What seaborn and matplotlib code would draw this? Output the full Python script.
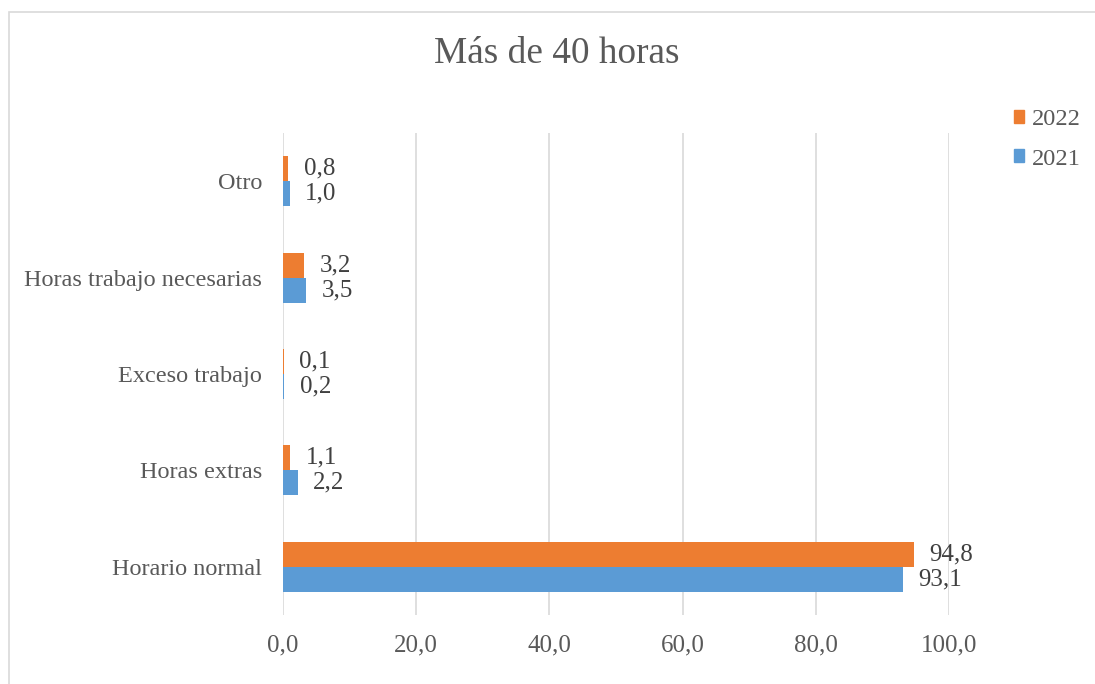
import matplotlib
matplotlib.use("Agg")
import matplotlib.pyplot as plt
import matplotlib.patches as mpatches
import pandas as pd
import seaborn as sns

# Data, top to bottom
categories = ["Otro", "Horas trabajo necesarias", "Exceso trabajo",
              "Horas extras", "Horario normal"]
values_2022 = [0.8, 3.2, 0.1, 1.1, 94.8]
values_2021 = [1.0, 3.5, 0.2, 2.2, 93.1]
years = ["2022", "2021"]
x_ticks = [0, 20, 40, 60, 80, 100]

colors = {"2022": "#ED7D31", "2021": "#5B9BD5"}
text_color = "#595959"
grid_color = "#D9D9D9"

df = pd.DataFrame({
    "Categoria": categories * 2,
    "Valor": values_2022 + values_2021,
    "Año": ["2022"] * len(categories) + ["2021"] * len(categories),
})

sns.set_style("white")
plt.rcParams["font.family"] = ["Liberation Serif", "DejaVu Serif"]

fig = plt.figure(figsize=(10.95, 6.84), dpi=100)
ax = fig.add_axes([283 / 1095, 1 - 615 / 684, (949 - 283) / 1095, (615 - 133) / 684])

sns.barplot(data=df, y="Categoria", x="Valor", hue="Año", hue_order=years,
            order=categories, palette=colors, width=0.52, gap=0,
            saturation=1, orient="h", ax=ax, legend=False, linewidth=0)

# data labels with comma decimals
for year, cont in zip(years, ax.containers):
    vals = values_2022 if year == "2022" else values_2021
    ax.bar_label(cont, labels=[f"{v:.1f}".replace(".", ",") for v in vals],
                 padding=11, fontsize=18, color="#404040")

ax.set_xlim(0, 100)
ax.set_xticks(x_ticks)
ax.set_xticklabels([f"{t:.1f}".replace(".", ",") for t in x_ticks])
ax.tick_params(axis="x", length=0, pad=14, labelsize=18, labelcolor=text_color)
ax.tick_params(axis="y", length=0, pad=15, labelsize=17.5, labelcolor=text_color)
ax.set_xlabel("")
ax.set_ylabel("")
ax.xaxis.grid(True, color=grid_color, linewidth=1.2)
ax.set_axisbelow(True)
for s in ax.spines.values():
    s.set_visible(False)

fig.text(557 / 1095, 1 - 54 / 684, "Más de 40 horas", ha="center", va="center",
         fontsize=26.8, color=text_color)

handles = [mpatches.Patch(color=colors[y], label=y) for y in years]
fig.legend(handles=handles, loc="upper left", bbox_to_anchor=(1002 / 1095, 1 - 97 / 684),
           frameon=False, fontsize=17.6, labelcolor=text_color, handlelength=0.42,
           handleheight=0.42, handletextpad=0.3, labelspacing=0.75, borderpad=0)

# outer chart border
fig.patches.append(mpatches.Rectangle((9 / 1095, -0.05), 1.1, 1 - 12 / 684 + 0.05,
                                      transform=fig.transFigure, fill=False,
                                      edgecolor="#D9D9D9", linewidth=1.2))

fig.savefig("out.png", dpi=100)
